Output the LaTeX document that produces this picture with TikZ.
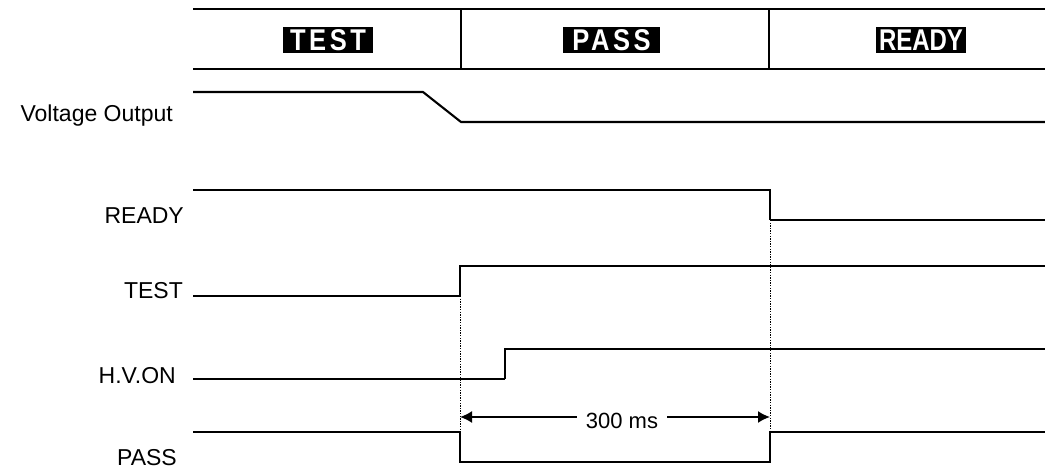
\documentclass[tikz,border=0pt]{standalone}
\usepackage{fontspec}
\setmainfont{Liberation Sans}
\newfontfamily\hdrfont[FakeStretch=0.85,LetterSpace=12]{Liberation Sans}
\newfontfamily\hdrfontb[FakeStretch=0.8]{Liberation Sans}
\usetikzlibrary{arrows.meta}
\tikzset{
  hdr/.style={line width=2.2pt},
  divline/.style={line width=1.7pt},
  hbox/.style={fill=black, text=white, inner sep=0pt, minimum height=26pt, font=\fontsize{30}{30}\selectfont},
  lbl/.style={inner sep=0pt, font=\fontsize{23}{23}\selectfont},
  sigk/.style={line width=2.6pt, line join=miter},
  sigt/.style={line width=1.7pt},
  sigm/.style={line width=2.1pt},
  dotv/.style={line width=1pt, dash pattern=on 1.4pt off 1.2pt, black},
  dim/.style={line width=1.7pt, {Latex[length=12pt,width=12pt]}-{Latex[length=12pt,width=12pt]}},
}
\begin{document}
\begin{tikzpicture}[x=1pt,y=-1pt]
\useasboundingbox (0,0) rectangle (1045,468);
% header
\draw[hdr] (193,9) -- (1045,9);
\draw[hdr] (193,69) -- (1045,69);
\draw[divline] (461,9) -- (461,69);
\draw[divline] (769,9) -- (769,69);
\node[hbox, minimum width=90pt] (hT) at (328,40) {\hdrfont\bfseries TEST};
\node[hbox, minimum width=97pt] (hP) at (611.5,40) {\hdrfont\bfseries PASS};
\node[hbox, minimum width=90pt] (hR) at (921,40) {\hdrfontb\bfseries READY};
% labels
\node[lbl, anchor=base east] (lV) at (173,122) {Voltage Output};
\node[lbl, anchor=base east] (lR) at (184,223) {READY};
\node[lbl, anchor=base east] (lT) at (183,298) {TEST};
\node[lbl, anchor=base east] (lH) at (176,383) {H.V.ON};
\node[lbl, anchor=base east] (lP) at (177,465) {PASS};
% voltage output
\draw[sigm] (193,92) -- (423,92) -- (461,122) -- (1045,122);
% READY
\draw[sigk] (193,190) -- (770,190) -- (770,220);
\draw[sigt] (770,220) -- (1045,220);
% TEST
\draw[sigt] (193,296) -- (460,296);
\draw[sigk] (460,296) -- (460,266) -- (1045,266);
% H.V.ON
\draw[sigt] (193,379) -- (505,379);
\draw[sigk] (505,379) -- (505,349) -- (1045,349);
% PASS
\draw[sigk] (193,432) -- (460,432) -- (460,462) -- (770,462) -- (770,432) -- (1045,432);
% dotted guides
\coordinate (dA1) at (460,296);
\coordinate (dA2) at (460,432);
\coordinate (dB1) at (770,220);
\coordinate (dB2) at (770,432);
\draw[dotv] (dA1) -- (dA2);
\draw[dotv] (dB1) -- (dB2);
% dimension
\coordinate (aL) at (460,417);
\coordinate (aR) at (770,417);
\draw[dim] (aL) -- (aR);
\node[lbl, fill=white, inner xsep=9pt, inner ysep=2pt, anchor=base, font=\fontsize{22}{22}\selectfont] (ms) at (622,428) {300 ms};
\end{tikzpicture}
\end{document}
